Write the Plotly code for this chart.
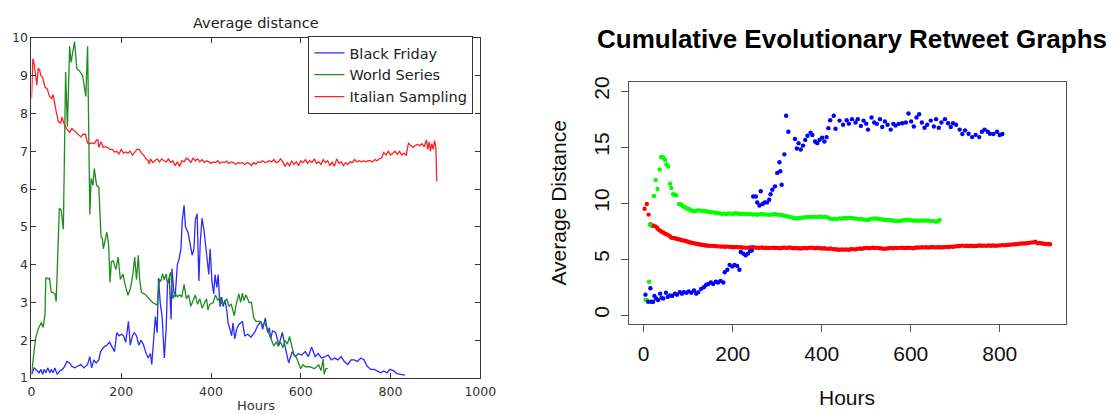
import plotly.graph_objects as go

W, H = 1114, 414

# ---------------- Left panel: "Average distance" (line chart) ----------------
bf_hours = [0, 2, 6, 12, 17, 21, 25, 28, 32, 36,
            41, 44, 48, 52, 57, 63, 69, 74, 79, 85,
            90, 96, 103, 110, 117, 125, 130, 134, 139, 144,
            150, 154, 161, 168, 174, 179, 185, 190, 195, 200,
            205, 210, 216, 220, 225, 229, 234, 239, 244, 249,
            254, 260, 265, 268, 273, 276, 280, 283, 287, 291,
            296, 300, 303, 307, 311, 313, 317, 320, 325, 329,
            333, 336, 340, 343, 349, 354, 358, 362, 365, 369,
            373, 376, 380, 385, 391, 395, 398, 402, 406, 409,
            413, 416, 420, 424, 427, 431, 435, 438, 442, 446,
            449, 453, 457, 462, 470, 475, 482, 489, 497, 504,
            511, 515, 521, 526, 530, 533, 537, 544, 551, 559,
            566, 573, 581, 588, 595, 602, 610, 617, 624, 632,
            639, 646, 654, 661, 668, 675, 683, 690, 697, 705,
            712, 719, 726, 734, 741, 748, 756, 763, 770, 778,
            785, 792, 799, 807, 814, 821, 832]
bf_vals = [1.10, 1.14, 1.27, 1.19, 1.14, 1.23, 1.10, 1.23, 1.14, 1.27,
           1.14, 1.23, 1.14, 1.27, 1.10, 1.19, 1.23, 1.31, 1.44, 1.40,
           1.31, 1.27, 1.31, 1.36, 1.27, 1.36, 1.57, 1.27, 1.48, 1.40,
           1.48, 1.70, 1.82, 1.87, 1.95, 1.82, 1.70, 2.20, 2.12, 2.16,
           2.12, 1.95, 2.50, 1.87, 2.12, 2.20, 2.12, 1.87, 2.00, 1.90,
           1.70, 1.53, 1.65, 1.36, 2.04, 2.63, 2.20, 3.65, 2.97, 2.63,
           1.53, 2.30, 3.48, 3.65, 2.55, 3.90, 3.30, 3.14, 4.00, 4.16,
           4.42, 5.18, 5.57, 5.01, 4.84, 4.50, 4.25, 4.42, 5.18, 5.35,
           3.57, 4.59, 5.23, 4.84, 4.25, 3.74, 4.42, 3.57, 3.23, 3.74,
           3.40, 3.74, 2.89, 3.14, 2.89, 3.06, 2.80, 2.46, 2.30, 2.12,
           2.46, 2.04, 2.29, 2.42, 2.50, 2.12, 2.16, 2.08, 2.21, 2.38,
           2.50, 2.29, 2.59, 2.21, 2.33, 2.04, 2.25, 2.21, 1.87, 2.21,
           1.78, 1.40, 1.70, 1.57, 1.65, 1.61, 1.70, 1.57, 1.82, 1.57,
           1.65, 1.53, 1.57, 1.61, 1.48, 1.53, 1.48, 1.57, 1.44, 1.36,
           1.48, 1.48, 1.44, 1.53, 1.48, 1.31, 1.23, 1.23, 1.19, 1.14,
           1.19, 1.14, 1.23, 1.19, 1.12, 1.10, 1.08]

ws_hours = [0, 2, 9, 15, 22, 26, 30, 32, 37, 40,
            44, 52, 55, 62, 66, 71, 76, 80, 85, 88,
            96, 101, 106, 114, 121, 125, 130, 133, 137, 140,
            145, 150, 155, 158, 160, 165, 168, 172, 175, 178,
            182, 188, 193, 198, 204, 208, 215, 220, 226, 230,
            234, 238, 241, 245, 255, 262, 270, 280, 285, 288,
            292, 296, 300, 303, 310, 315, 320, 325, 330, 335,
            340, 345, 350, 355, 360, 365, 370, 375, 380, 385,
            390, 393, 397, 405, 410, 415, 420, 425, 430, 435,
            440, 445, 452, 455, 462, 466, 470, 473, 478, 485,
            490, 495, 500, 510, 515, 520, 525, 530, 535, 540,
            545, 550, 555, 560, 565, 570, 575, 580, 585, 590,
            595, 600, 605, 610, 620, 630, 640, 645, 650, 652,
            656, 660]
ws_vals = [1.10, 1.35, 2.05, 2.30, 2.47, 2.34, 2.68, 3.66, 3.62, 3.65,
           3.28, 3.24, 3.02, 5.49, 5.45, 4.94, 9.10, 7.65, 9.78, 9.35,
           9.90, 9.18, 9.14, 9.00, 8.45, 9.78, 5.33, 6.28, 6.10, 6.54,
           6.10, 6.05, 4.72, 4.70, 4.42, 4.70, 4.86, 4.50, 3.53, 4.08,
           4.10, 3.87, 4.20, 3.61, 3.75, 3.50, 3.19, 3.35, 3.75, 4.20,
           3.60, 4.25, 3.60, 3.27, 3.20, 3.10, 3.00, 2.93, 3.61, 3.55,
           3.76, 3.60, 3.75, 3.50, 3.81, 3.10, 3.25, 3.15, 3.20, 3.15,
           3.48, 3.10, 3.20, 2.90, 3.05, 3.20, 2.95, 3.10, 2.85, 3.00,
           3.10, 2.80, 2.95, 3.00, 3.20, 3.05, 3.15, 2.95, 3.00, 3.10,
           2.90, 2.95, 2.65, 2.90, 3.23, 3.00, 3.25, 3.05, 3.20, 3.00,
           3.00, 2.60, 2.50, 2.50, 2.40, 2.45, 2.30, 2.10, 2.00, 1.85,
           1.95, 1.85, 1.95, 1.80, 2.00, 1.90, 2.10, 1.80, 1.60, 1.55,
           1.40, 1.25, 1.35, 1.30, 1.30, 1.25, 1.35, 1.20, 1.50, 1.10,
           1.25, 1.25]

it_hours = [0, 3, 6, 9, 12, 15, 18, 21, 25, 30,
            35, 40, 45, 48, 52, 55, 60, 65, 68, 72,
            78, 82, 85, 90, 95, 100, 105, 110, 115, 120,
            122, 125, 130, 135, 140, 145, 148, 150, 155, 160,
            165, 170, 175, 180, 185, 190, 195, 200, 205, 210,
            215, 220, 225, 230, 235, 240, 245, 250, 255, 260,
            262, 265, 270, 275, 280, 285, 290, 295, 300, 305,
            310, 315, 320, 325, 330, 335, 340, 345, 350, 355,
            360, 365, 370, 375, 380, 385, 390, 395, 400, 405,
            410, 415, 420, 425, 430, 435, 440, 445, 450, 455,
            460, 465, 470, 475, 480, 485, 490, 495, 500, 505,
            510, 515, 520, 525, 530, 535, 540, 545, 550, 555,
            560, 565, 570, 575, 580, 585, 590, 595, 600, 605,
            610, 615, 620, 625, 630, 635, 640, 645, 650, 655,
            660, 665, 670, 675, 680, 685, 690, 695, 700, 705,
            710, 715, 720, 725, 730, 735, 740, 745, 750, 755,
            760, 765, 770, 775, 780, 785, 790, 795, 800, 805,
            810, 815, 820, 825, 830, 835, 840, 845, 850, 855,
            860, 865, 870, 875, 880, 883, 886, 889, 892, 895,
            898, 901, 903]
it_vals = [8.40, 9.45, 9.30, 8.95, 8.75, 9.20, 9.15, 9.00, 8.95, 8.70,
           8.65, 8.45, 8.40, 8.50, 8.20, 8.05, 7.78, 7.75, 7.90, 7.75,
           7.60, 7.55, 7.50, 7.60, 7.55, 7.50, 7.45, 7.38, 7.45, 7.45,
           7.35, 7.22, 7.20, 7.22, 7.20, 7.30, 7.30, 7.10, 7.25, 7.10,
           7.12, 7.10, 7.05, 7.05, 6.98, 7.00, 6.93, 7.05, 6.95, 6.98,
           6.95, 7.00, 6.90, 6.98, 7.05, 7.05, 6.95, 6.90, 6.80, 6.75,
           6.67, 6.80, 6.70, 6.75, 6.80, 6.72, 6.80, 6.75, 6.72, 6.80,
           6.70, 6.75, 6.62, 6.72, 6.60, 6.75, 6.72, 6.82, 6.78, 6.70,
           6.82, 6.75, 6.80, 6.72, 6.78, 6.70, 6.75, 6.72, 6.68, 6.72,
           6.70, 6.75, 6.68, 6.72, 6.70, 6.74, 6.68, 6.72, 6.70, 6.65,
           6.70, 6.68, 6.70, 6.65, 6.70, 6.68, 6.62, 6.70, 6.66, 6.72,
           6.70, 6.75, 6.70, 6.72, 6.75, 6.72, 6.78, 6.70, 6.72, 6.80,
           6.72, 6.60, 6.70, 6.62, 6.75, 6.65, 6.72, 6.62, 6.75, 6.70,
           6.78, 6.68, 6.75, 6.70, 6.80, 6.68, 6.72, 6.65, 6.78, 6.70,
           6.75, 6.62, 6.72, 6.60, 6.80, 6.68, 6.72, 6.62, 6.70, 6.65,
           6.72, 6.70, 6.78, 6.72, 6.75, 6.72, 6.75, 6.72, 6.75, 6.75,
           6.72, 6.78, 6.75, 6.80, 6.82, 6.97, 6.90, 7.00, 6.90, 6.95,
           7.00, 6.92, 7.00, 6.90, 6.95, 6.90, 7.22, 7.15, 7.10, 7.15,
           7.18, 7.15, 7.20, 7.12, 7.30, 7.05, 7.25, 7.00, 7.20, 7.05,
           7.28, 7.10, 6.20]

left_x_ticks = [0, 200, 400, 600, 800, 1000]
left_y_ticks = [1, 2, 3, 4, 5, 6, 7, 8, 9, 10]

# ---------------- Right panel: "Cumulative Evolutionary Retweet Graphs" (dots) ----------------
rb_hours = [4, 10, 15, 17, 21, 24, 28, 32, 37, 40,
            44, 50, 54, 59, 64, 70, 75, 81, 86, 90,
            96, 101, 107, 113, 118, 123, 129, 135, 140, 145,
            151, 156, 162, 167, 173, 179, 182, 188, 193, 199,
            204, 210, 215, 218, 224, 229, 234, 239, 243, 246,
            252, 255, 260, 263, 267, 272, 277, 282, 285, 289,
            295, 300, 305, 307, 310, 316, 320, 325, 340, 344,
            348, 353, 358, 363, 368, 375, 379, 385, 390, 395,
            401, 406, 411, 415, 419, 427, 431, 440, 448, 456,
            461, 468, 476, 481, 488, 494, 500, 504, 512, 518,
            524, 531, 536, 542, 548, 555, 561, 566, 573, 581,
            589, 595, 601, 607, 613, 619, 625, 631, 637, 645,
            652, 657, 663, 669, 677, 684, 690, 695, 702, 710,
            716, 722, 730, 738, 746, 754, 760, 766, 773, 778,
            786, 794, 800, 806]
rb_vals = [1.83, 1.20, 2.40, 1.20, 1.20, 1.72, 1.49, 1.35, 1.92, 1.55,
           1.49, 2.00, 1.63, 1.77, 1.72, 1.92, 1.83, 2.06, 1.92, 2.06,
           2.00, 2.12, 2.00, 2.20, 1.92, 2.06, 2.35, 2.49, 2.69, 2.78,
           2.92, 2.78, 2.98, 2.92, 3.06, 2.92, 3.83, 4.06, 4.49, 4.35,
           4.49, 4.40, 4.06, 5.64, 5.49, 5.35, 5.49, 5.72, 5.78, 10.59,
           10.59, 10.07, 9.79, 11.07, 9.93, 10.07, 10.07, 10.30, 10.79, 11.20,
           11.50, 12.70, 13.65, 12.85, 11.64, 14.36, 17.80, 16.37, 15.74, 14.88,
           15.36, 14.79, 15.14, 15.65, 16.02, 16.30, 16.08, 15.50, 15.36, 15.65,
           15.85, 15.50, 15.90, 16.70, 17.40, 17.80, 16.65, 17.37, 17.00, 17.40,
           17.10, 17.50, 17.20, 17.50, 16.90, 17.37, 17.10, 16.57, 17.65, 17.20,
           17.08, 17.50, 16.80, 17.30, 17.00, 16.57, 17.08, 16.94, 17.08, 17.14,
           17.20, 18.00, 17.30, 16.85, 17.65, 17.94, 17.20, 16.74, 17.00, 17.37,
           16.85, 17.50, 16.74, 17.20, 17.50, 17.14, 16.80, 17.14, 17.00, 16.57,
           16.17, 16.50, 16.20, 15.90, 16.10, 15.90, 16.37, 16.57, 16.37, 16.20,
           16.17, 16.37, 16.08, 16.17]

rg_hours = [4, 7, 12, 14, 23, 27, 31, 36, 39, 42,
            44, 48, 51, 55, 59, 62, 66, 70, 73, 79,
            82, 85, 88, 92, 95, 99, 103, 107, 111, 115,
            120, 125, 130, 136, 141, 147, 152, 158, 163, 169,
            175, 180, 185, 190, 195, 200, 205, 210, 215, 220,
            225, 230, 235, 240, 245, 250, 255, 260, 265, 270,
            275, 280, 285, 290, 295, 300, 305, 310, 315, 320,
            325, 330, 335, 340, 345, 350, 355, 360, 365, 370,
            375, 380, 385, 390, 395, 400, 405, 410, 415, 420,
            425, 430, 435, 440, 445, 450, 455, 460, 465, 470,
            475, 480, 485, 490, 495, 500, 505, 510, 515, 520,
            525, 530, 535, 540, 545, 550, 555, 560, 565, 570,
            575, 580, 585, 590, 595, 600, 605, 610, 615, 620,
            625, 630, 635, 640, 645, 650, 655, 660, 665]
rg_vals = [1.35, 1.35, 2.98, 8.07, 10.64, 12.07, 11.27, 13.00, 14.13, 14.10,
           14.08, 13.85, 13.45, 13.28, 11.73, 11.36, 10.79, 10.75, 10.70, 9.93,
           9.90, 9.84, 9.75, 9.64, 9.60, 9.50, 9.45, 9.36, 9.30, 9.27,
           9.35, 9.36, 9.32, 9.30, 9.28, 9.21, 9.20, 9.16, 9.12, 9.10,
           9.05, 9.07, 9.02, 9.08, 9.07, 9.04, 9.10, 9.08, 9.05, 9.04,
           9.06, 9.00, 9.04, 9.02, 8.98, 9.00, 8.96, 9.02, 9.04, 8.98,
           9.00, 8.96, 8.98, 9.00, 9.04, 8.98, 8.95, 8.93, 8.90, 8.85,
           8.78, 8.75, 8.70, 8.64, 8.66, 8.68, 8.70, 8.72, 8.75, 8.78,
           8.76, 8.78, 8.78, 8.75, 8.80, 8.78, 8.76, 8.78, 8.70, 8.60,
           8.58, 8.62, 8.60, 8.64, 8.62, 8.68, 8.66, 8.70, 8.68, 8.66,
           8.62, 8.60, 8.58, 8.60, 8.55, 8.50, 8.52, 8.60, 8.62, 8.64,
           8.60, 8.58, 8.55, 8.52, 8.50, 8.50, 8.48, 8.45, 8.42, 8.40,
           8.42, 8.45, 8.48, 8.50, 8.50, 8.47, 8.44, 8.46, 8.42, 8.44,
           8.46, 8.43, 8.45, 8.44, 8.40, 8.42, 8.35, 8.38, 8.50]

rr_hours = [2, 7, 11, 15, 18, 22, 26, 30, 33, 37,
            40, 44, 48, 51, 55, 59, 62, 66, 70, 74,
            77, 81, 85, 88, 92, 96, 100, 103, 107, 110,
            114, 118, 122, 126, 129, 133, 137, 140, 143, 148,
            153, 158, 163, 168, 173, 178, 183, 188, 193, 198,
            202, 207, 212, 217, 222, 227, 232, 237, 242, 246,
            251, 256, 261, 266, 271, 276, 281, 286, 291, 296,
            301, 306, 311, 316, 321, 327, 332, 337, 342, 347,
            352, 357, 362, 367, 371, 376, 381, 386, 391, 396,
            401, 406, 410, 415, 420, 425, 430, 435, 440, 445,
            450, 455, 460, 465, 470, 475, 480, 485, 490, 495,
            500, 505, 510, 515, 520, 525, 530, 535, 540, 545,
            550, 555, 560, 565, 570, 575, 580, 585, 590, 595,
            600, 605, 610, 615, 620, 625, 630, 635, 640, 645,
            650, 655, 660, 665, 670, 675, 680, 685, 690, 695,
            700, 705, 710, 715, 720, 725, 730, 735, 740, 745,
            750, 755, 760, 765, 770, 775, 780, 785, 790, 795,
            800, 805, 810, 815, 820, 825, 830, 835, 840, 845,
            850, 855, 860, 865, 870, 875, 880, 885, 890, 895,
            900, 905, 910, 913]
rr_vals = [9.50, 9.93, 8.98, 8.13, 8.00, 7.98, 7.93, 7.80, 7.64, 7.55,
           7.44, 7.38, 7.27, 7.22, 7.15, 7.05, 6.92, 6.90, 6.87, 6.82,
           6.78, 6.75, 6.70, 6.68, 6.64, 6.60, 6.55, 6.50, 6.46, 6.44,
           6.41, 6.38, 6.35, 6.32, 6.29, 6.27, 6.24, 6.22, 6.21, 6.20,
           6.19, 6.18, 6.16, 6.14, 6.12, 6.13, 6.11, 6.12, 6.10, 6.09,
           6.07, 6.08, 6.06, 6.07, 6.04, 6.03, 6.01, 6.04, 6.05, 6.07,
           6.03, 6.02, 6.01, 6.04, 6.00, 6.02, 5.99, 6.01, 6.03, 6.00,
           6.01, 5.98, 6.02, 6.03, 6.00, 6.04, 6.01, 5.97, 6.00, 5.98,
           5.95, 5.98, 6.00, 5.97, 6.01, 6.03, 6.00, 5.97, 6.01, 5.98,
           5.95, 5.97, 5.94, 5.92, 5.95, 5.90, 5.88, 5.86, 5.84, 5.87,
           5.85, 5.86, 5.84, 5.88, 5.90, 5.87, 5.92, 5.95, 5.93, 5.98,
           6.01, 5.97, 6.00, 6.02, 5.99, 6.01, 5.97, 5.95, 5.92, 5.94,
           5.97, 6.00, 5.98, 6.01, 5.99, 6.01, 6.03, 5.99, 6.00, 6.02,
           6.01, 5.98, 6.02, 6.04, 6.03, 6.06, 6.05, 6.07, 6.04, 6.06,
           6.08, 6.05, 6.07, 6.07, 6.05, 6.09, 6.10, 6.08, 6.12, 6.11,
           6.14, 6.16, 6.18, 6.21, 6.19, 6.20, 6.18, 6.20, 6.17, 6.18,
           6.20, 6.22, 6.20, 6.21, 6.19, 6.22, 6.20, 6.22, 6.20, 6.21,
           6.23, 6.25, 6.24, 6.27, 6.29, 6.30, 6.32, 6.33, 6.36, 6.38,
           6.41, 6.40, 6.42, 6.45, 6.48, 6.50, 6.55, 6.42, 6.45, 6.40,
           6.38, 6.36, 6.35, 6.33]

right_x_ticks = [0, 200, 400, 600, 800]
right_y_ticks = [0, 5, 10, 15, 20]

for a, b, n in [(bf_hours, bf_vals, "bf"), (ws_hours, ws_vals, "ws"), (it_hours, it_vals, "it"),
                (rb_hours, rb_vals, "rb"), (rg_hours, rg_vals, "rg"), (rr_hours, rr_vals, "rr")]:
    assert len(a) == len(b), f"{n}: {len(a)} vs {len(b)}"

# ---------------- Figure ----------------
fig = go.Figure()

LFONT = "DejaVu Sans"
RFONT = "Liberation Sans"

fig.add_trace(go.Scatter(x=bf_hours, y=bf_vals, mode="lines", name="Black Friday",
                         line=dict(color="#2a2aff", width=1.3), xaxis="x", yaxis="y"))
fig.add_trace(go.Scatter(x=ws_hours, y=ws_vals, mode="lines", name="World Series",
                         line=dict(color="#1f8c1f", width=1.3), xaxis="x", yaxis="y"))
fig.add_trace(go.Scatter(x=it_hours, y=it_vals, mode="lines", name="Italian Sampling",
                         line=dict(color="#ff2020", width=1.3), xaxis="x", yaxis="y"))

dot = dict(size=4.4, line=dict(width=0))
fig.add_trace(go.Scatter(x=rr_hours, y=rr_vals, mode="markers", showlegend=False,
                         marker=dict(color="#ff0000", **dot), xaxis="x2", yaxis="y2"))
fig.add_trace(go.Scatter(x=rg_hours, y=rg_vals, mode="markers", showlegend=False,
                         marker=dict(color="#00ff00", **dot), xaxis="x2", yaxis="y2"))
fig.add_trace(go.Scatter(x=rb_hours, y=rb_vals, mode="markers", showlegend=False,
                         marker=dict(color="#0000ff", **dot), xaxis="x2", yaxis="y2"))

fig.update_layout(
    width=W, height=H,
    margin=dict(l=0, r=0, t=0, b=0),
    paper_bgcolor="white", plot_bgcolor="white",
    xaxis=dict(domain=[28 / W, 485 / W], range=[0, 1000], tickvals=left_x_ticks,
               ticks="inside", ticklen=5, tickcolor="#333", mirror="ticks",
               showline=True, linecolor="#333", linewidth=1, showgrid=False, zeroline=False,
               ticklabelstandoff=2,
               tickfont=dict(family=LFONT, size=12.5, color="#333"), anchor="y"),
    yaxis=dict(domain=[1 - 384 / H, 1 - 31 / H], range=[1, 10], tickvals=left_y_ticks,
               ticks="inside", ticklen=5, tickcolor="#333", mirror="ticks",
               showline=True, linecolor="#333", linewidth=1, showgrid=False, zeroline=False,
               tickfont=dict(family=LFONT, size=12.5, color="#333"), anchor="x"),
    xaxis2=dict(domain=[636 / W, 1081 / W], range=[-34, 948], tickvals=right_x_ticks,
                ticks="outside", ticklen=7, tickcolor="#555", mirror=True,
                showline=True, linecolor="#555", linewidth=1, showgrid=False, zeroline=False,
                ticklabelstandoff=4,
                tickfont=dict(family=RFONT, size=21, color="#111"), anchor="y2"),
    yaxis2=dict(domain=[1 - 328 / H, 1 - 77 / H], range=[-0.8, 20.8], tickvals=right_y_ticks,
                ticks="outside", ticklen=7, tickcolor="#555", mirror=True, tickangle=-90,
                showline=True, linecolor="#555", linewidth=1, showgrid=False, zeroline=False,
                ticklabelstandoff=3,
                tickfont=dict(family=RFONT, size=21, color="#111"), anchor="x2"),
    legend=dict(x=478 / W, xanchor="right", y=1 - 29 / H, yanchor="top",
                bordercolor="#333", borderwidth=1, bgcolor="white",
                font=dict(family=LFONT, size=14.5, color="#222"), itemwidth=30),
    annotations=[
        dict(text="Average distance", x=256.5 / W, y=1 - 16 / H, xref="paper", yref="paper",
             showarrow=False, xanchor="center", yanchor="middle",
             font=dict(family=LFONT, size=14.5, color="#222")),
        dict(text="Hours", x=256.5 / W, y=0, xref="paper", yref="paper",
             showarrow=False, xanchor="center", yanchor="bottom", yshift=-8,
             font=dict(family=LFONT, size=13, color="#333")),
        dict(text="<b>Cumulative Evolutionary Retweet Graphs</b>", x=864 / W, y=1 - 32 / H,
             xref="paper", yref="paper", showarrow=False, xanchor="center", yanchor="middle",
             font=dict(family=RFONT, size=26, color="#000")),
        dict(text="Hours", x=858 / W, y=1 - 404 / H, xref="paper", yref="paper",
             showarrow=False, xanchor="center", yanchor="middle",
             font=dict(family=RFONT, size=21, color="#111")),
        dict(text="Average Distance", x=565 / W, y=1 - 202 / H, xref="paper", yref="paper",
             showarrow=False, xanchor="center", yanchor="middle", textangle=-90,
             font=dict(family=RFONT, size=21, color="#111")),
    ],
)

fig.write_html("out.html", config={"displayModeBar": False},
               post_script="document.body.style.margin='0';document.body.style.overflow='hidden';")
